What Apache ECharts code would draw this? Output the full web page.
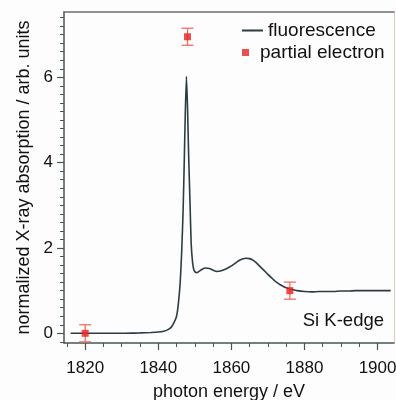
<!DOCTYPE html>
<html>
<head>
<meta charset="utf-8">
<script src="https://cdn.jsdelivr.net/npm/echarts@6/dist/echarts.min.js"></script>
<style>
  html, body { margin: 0; padding: 0; background: #fdfdfe; }
  #chart { width: 396px; height: 400px; }
</style>
</head>
<body>
<div id="chart"></div>
<script>
// Si K-edge XANES: fluorescence yield spectrum
const energy = [
  1816, 1820, 1825, 1830, 1835, 1838, 1840, 1841.5, 1842.5, 1843.5, 1844.3, 1845, 1845.5,
  1846, 1846.4, 1846.8, 1847.1, 1847.4, 1847.7, 1848.0, 1848.3, 1848.7, 1849.0, 1849.4,
  1849.8, 1850.4, 1851, 1852, 1853, 1854, 1855, 1856, 1857, 1858, 1859, 1860, 1861, 1862,
  1863, 1864, 1865, 1866, 1867, 1868, 1869, 1870, 1871, 1872, 1873, 1874, 1875, 1876,
  1877, 1878, 1880, 1882, 1884, 1886, 1888, 1890, 1892, 1894, 1896, 1898, 1900, 1902, 1903.6
];
const fluorescence = [
  0.0, 0.0, 0.0, 0.0, 0.01, 0.02, 0.03, 0.05, 0.08, 0.14, 0.25, 0.4, 0.7,
  1.2, 1.9, 2.9, 4.0, 5.2, 6.02, 5.3, 4.2, 3.0, 2.1, 1.65,
  1.47, 1.42, 1.44, 1.5, 1.53, 1.52, 1.48, 1.45, 1.46, 1.49, 1.53, 1.58, 1.64, 1.70,
  1.74, 1.76, 1.75, 1.71, 1.64, 1.55, 1.47, 1.38, 1.30, 1.22, 1.16, 1.11, 1.07, 1.04,
  1.02, 1.0, 0.98, 0.97, 0.98, 0.98, 0.98, 0.99, 0.99, 1.0, 1.0, 1.0, 1.0, 1.0, 1.0
];

// Partial electron yield measurements with uncertainties
const peEnergy = [1820, 1848, 1876];
const peValue = [0.0, 6.95, 1.0];
const peError = [0.2, 0.2, 0.2];

const xTicks = [1820, 1840, 1860, 1880, 1900];
const yTicks = [0, 2, 4, 6];

const FONT = '"Liberation Sans", Arial, sans-serif';
const AXIS = '#4a5556';
const CURVE = '#2c3d42';
const RED = '#e8221e';
const BAR = '#f0705e';

const X_MIN = 1814.2, X_MAX = 1904.5;
const Y_MIN = -0.227, Y_MAX = 7.53;

const chart = echarts.init(document.getElementById('chart'), null, { renderer: 'canvas' });

const lineData = energy.map((e, i) => [e, fluorescence[i]]);
const pointData = peEnergy.map((e, i) => [e, peValue[i]]);
const barData = peEnergy.map((e, i) => [e, peValue[i] - peError[i], peValue[i] + peError[i]]);

chart.setOption({
  backgroundColor: '#fdfdfe',
  animation: false,
  grid: { left: 64, right: 2, top: 12, bottom: 57, outerBoundsMode: 'none', containLabel: false },
  legend: [
    {
      data: [{ name: 'fluorescence' }],
      left: 241, top: 21, padding: 0,
      itemWidth: 21, itemHeight: 2,
      textStyle: { fontFamily: FONT, fontSize: 19, color: '#111' },
      selectedMode: false
    },
    {
      data: [{ name: 'partial electron', icon: 'path://M0,0h10v10h-10z' }],
      left: 242, top: 43, padding: 0,
      itemWidth: 19, itemHeight: 7,
      textStyle: { fontFamily: FONT, fontSize: 19, color: '#111' },
      selectedMode: false
    }
  ],
  xAxis: [
    {
      type: 'value', min: X_MIN, max: X_MAX, minInterval: 20, maxInterval: 20,
      name: 'photon energy / eV', nameLocation: 'middle', nameGap: 40,
      nameTextStyle: { fontFamily: FONT, fontSize: 18, color: '#111' },
      axisLine: { show: true, onZero: false, lineStyle: { color: AXIS, width: 1.5 } },
      axisTick: { show: true, length: 7, customValues: xTicks, lineStyle: { color: AXIS, width: 1.2 } },
      minorTick: { show: true, splitNumber: 4, length: 4, lineStyle: { color: AXIS, width: 1 } },
      axisLabel: {
        customValues: xTicks, color: '#111', fontFamily: FONT, fontSize: 17, margin: 17,
        formatter: v => String(v)
      },
      splitLine: { show: false }
    },
    {
      type: 'value', position: 'top', min: X_MIN, max: X_MAX,
      axisLine: { show: true, onZero: false, lineStyle: { color: '#6b7071', width: 1.5 } },
      axisTick: { show: false }, axisLabel: { show: false }, splitLine: { show: false }
    }
  ],
  yAxis: [
    {
      type: 'value', min: Y_MIN, max: Y_MAX, minInterval: 2, maxInterval: 2,
      name: 'normalized X-ray absorption / arb. units', nameLocation: 'middle', nameGap: 31,
      nameTextStyle: { fontFamily: FONT, fontSize: 18, color: '#111' },
      axisLine: { show: true, onZero: false, lineStyle: { color: AXIS, width: 1.5 } },
      axisTick: { show: true, length: 7, customValues: yTicks, lineStyle: { color: AXIS, width: 1.2 } },
      minorTick: { show: true, splitNumber: 10, length: 4, lineStyle: { color: AXIS, width: 1 } },
      axisLabel: {
        customValues: yTicks, color: '#111', fontFamily: FONT, fontSize: 17, margin: 11,
        formatter: v => String(v)
      },
      splitLine: { show: false }
    },
    {
      type: 'value', position: 'right', min: Y_MIN, max: Y_MAX,
      axisLine: { show: true, onZero: false, lineStyle: { color: '#e2cbc3', width: 1 } },
      axisTick: { show: false }, axisLabel: { show: false }, splitLine: { show: false }
    }
  ],
  graphic: [
    {
      type: 'text', right: 12, top: 311,
      style: { text: 'Si K-edge', fontFamily: FONT, fontSize: 18.5, fill: '#111' }
    }
  ],
  series: [
    {
      name: 'fluorescence', type: 'line', data: lineData,
      xAxisIndex: 0, yAxisIndex: 0,
      symbol: 'none', smooth: 0.15,
      lineStyle: { color: CURVE, width: 1.6 },
      itemStyle: { color: CURVE },
      z: 3
    },
    {
      name: 'error', type: 'custom', data: barData,
      xAxisIndex: 0, yAxisIndex: 0,
      renderItem: (params, api) => {
        const x = api.value(0);
        const lo = api.coord([x, api.value(1)]);
        const hi = api.coord([x, api.value(2)]);
        const cap = 6;
        const style = { stroke: BAR, lineWidth: 1.3, fill: null };
        return {
          type: 'group',
          children: [
            { type: 'line', shape: { x1: lo[0], y1: lo[1], x2: hi[0], y2: hi[1] }, style },
            { type: 'line', shape: { x1: lo[0] - cap, y1: lo[1], x2: lo[0] + cap, y2: lo[1] }, style },
            { type: 'line', shape: { x1: hi[0] - cap, y1: hi[1], x2: hi[0] + cap, y2: hi[1] }, style }
          ]
        };
      },
      z: 4
    },
    {
      name: 'partial electron', type: 'scatter', data: pointData,
      xAxisIndex: 0, yAxisIndex: 0,
      symbol: 'rect', symbolSize: 7,
      itemStyle: { color: RED },
      z: 5
    }
  ]
});
</script>
</body>
</html>
